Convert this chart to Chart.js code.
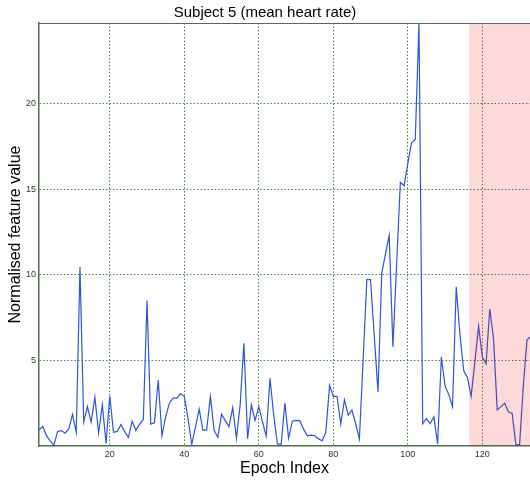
<!DOCTYPE html>
<html>
<head>
<meta charset="utf-8">
<script src="https://cdn.jsdelivr.net/npm/chart.js@4"></script>
<style>
  body { margin: 0; background: #fff; }
  #wrap { width: 530px; height: 481px; position: relative; }
</style>
</head>
<body>
<div id="wrap"><canvas id="hrChart"></canvas></div>
<script>
// mean heart rate feature, one value per epoch (epoch 1 onwards)
const featureValues = [
  0.93, 1.15, 0.6, 0.3, 0.05, 0.85, 0.9, 0.75, 1.0, 1.85,
  0.8, 10.45, 1.4, 2.3, 1.4, 2.85, 0.75, 2.4, 0.15, 2.9,
  0.8, 0.85, 1.25, 0.85, 0.5, 1.45, 0.9, 1.28, 1.55, 8.5,
  1.28, 1.36, 3.85, 0.6, 1.7, 2.5, 2.8, 2.8, 3.05, 2.9,
  1.6, 0.1, 1.1, 2.15, 0.93, 0.93, 2.9, 0.93, 0.5, 1.85,
  1.48, 1.13, 2.24, 0.45, 2.4, 6.0, 0.43, 2.4, 1.5, 2.3,
  1.4, 0.58, 3.95, 1.8, 0.12, 0.1, 2.5, 0.45, 1.45, 1.5,
  1.48, 1.0, 0.6, 0.64, 0.6, 0.42, 0.3, 0.8, 3.55, 2.9,
  2.9, 1.3, 2.7, 1.8, 2.1, 1.3, 0.4, 5.0, 9.72, 9.72,
  6.4, 3.15, 10.1, 11.2, 12.3, 5.8, 10.6, 15.4, 15.2, 16.5,
  17.7, 17.9, 24.7, 1.3, 1.6, 1.3, 1.7, 0.1, 5.2, 3.5,
  3.0, 2.3, 9.3, 6.5, 4.4, 4.0, 2.9, 4.9, 7.0, 5.2,
  4.8, 8.0, 6.3, 2.1, 2.3, 2.5, 2.0, 1.9, 0.1, 0.06,
  3.5, 6.2, 6.4
];
const xTicks = [20, 40, 60, 80, 100, 120];
const yTicks = [5, 10, 15, 20];
const shadeStart = 116.5; // start of highlighted epochs

const points = featureValues.map((v, i) => ({ x: i + 1, y: v }));

const gridColor = 'rgba(50,115,50,0.9)';
const axisColor = '#4f6f4f';

const shadePlugin = {
  id: 'shade',
  afterDatasetsDraw(chart) {
    const { ctx, chartArea, scales } = chart;
    const x0 = scales.x.getPixelForValue(shadeStart);
    ctx.save();
    ctx.fillStyle = 'rgba(240,0,0,0.15)';
    ctx.fillRect(x0, chartArea.top, chartArea.right - x0, chartArea.bottom - chartArea.top);
    // top border of the axes box
    ctx.strokeStyle = axisColor;
    ctx.lineWidth = 1;
    ctx.beginPath();
    ctx.moveTo(chartArea.left, chartArea.top + 0.5);
    ctx.lineTo(chartArea.right, chartArea.top + 0.5);
    ctx.stroke();
    ctx.restore();
  }
};

new Chart(document.getElementById('hrChart'), {
  type: 'line',
  data: {
    datasets: [{
      data: points,
      borderColor: 'rgb(45,85,215)',
      borderWidth: 1.2,
      pointRadius: 0,
      tension: 0
    }]
  },
  options: {
    responsive: true,
    maintainAspectRatio: false,
    animation: false,
    layout: { padding: 0 },
    plugins: {
      legend: { display: false },
      tooltip: { enabled: false },
      title: {
        display: true,
        text: 'Subject 5 (mean heart rate)',
        color: '#000',
        font: { family: 'Liberation Sans', size: 15, weight: 'normal' },
        padding: { top: 4, bottom: 1 }
      }
    },
    scales: {
      x: {
        type: 'linear',
        min: 1,
        max: 132.8,
        afterBuildTicks(scale) { scale.ticks = xTicks.map(v => ({ value: v })); },
        afterFit(scale) { scale.height = 35; },
        ticks: {
          color: '#333',
          font: { family: 'Liberation Sans', size: 9 },
          padding: 3,
          maxRotation: 0
        },
        grid: {
          color: gridColor,
          lineWidth: 1,
          drawTicks: false
        },
        border: { display: true, color: axisColor, width: 1.5, dash: [1.5, 2] },
        title: {
          display: true,
          text: 'Epoch Index',
          color: '#000',
          font: { family: 'Liberation Sans', size: 16 },
          padding: { top: 0, bottom: 3 }
        }
      },
      y: {
        min: 0,
        max: 24.7,
        afterBuildTicks(scale) { scale.ticks = yTicks.map(v => ({ value: v })); },
        afterFit(scale) { scale.width = 39; },
        ticks: {
          color: '#333',
          font: { family: 'Liberation Sans', size: 9 },
          padding: 3
        },
        grid: {
          color: gridColor,
          lineWidth: 1,
          drawTicks: false
        },
        border: { display: true, color: axisColor, width: 1.5, dash: [1.5, 2] },
        title: {
          display: true,
          text: 'Normalised feature value',
          color: '#000',
          font: { family: 'Liberation Sans', size: 16 },
          padding: { top: 6, bottom: 0 }
        }
      }
    }
  },
  plugins: [shadePlugin]
});
</script>
</body>
</html>
